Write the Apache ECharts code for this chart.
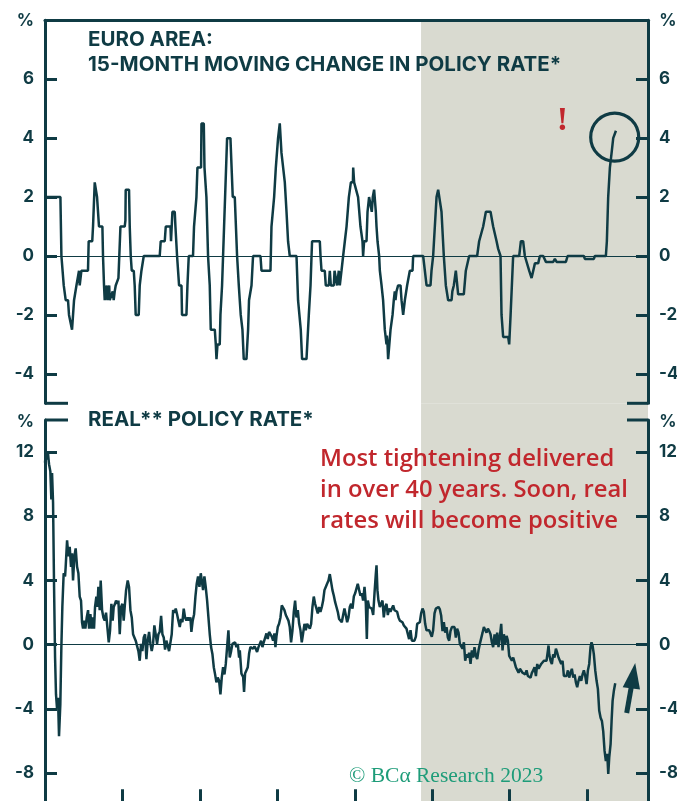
<!DOCTYPE html>
<html><head><meta charset="utf-8">
<script src="https://cdn.jsdelivr.net/npm/echarts@6/dist/echarts.min.js"></script>
<style>html,body{margin:0;padding:0;background:#fff}#main{width:677px;height:801px}</style>
</head><body><div id="main"></div>
<script>
// ---- DATA ----
const topYears = [1950.00,1951.99,1952.12,1952.42,1952.67,1952.97,1953.10,1953.28,1953.49,1953.75,1954.06,1954.31,1954.39,1954.48,1954.61,1954.70,1955.55,1955.64,1956.10,1956.20,1956.42,1956.55,1956.72,1956.97,1957.41,1957.49,1957.62,1957.71,1957.90,1957.97,1958.06,1958.23,1958.29,1958.36,1958.61,1958.74,1958.87,1959.00,1959.13,1959.30,1959.48,1959.61,1959.74,1960.29,1960.38,1960.42,1960.85,1960.94,1961.07,1961.20,1961.46,1961.58,1961.71,1962.10,1962.23,1962.45,1962.66,1962.75,1964.81,1964.94,1965.46,1965.59,1966.20,1966.27,1966.36,1966.45,1966.75,1966.84,1967.05,1967.31,1967.62,1967.69,1968.26,1968.39,1968.56,1969.11,1969.24,1969.55,1969.68,1970.15,1970.20,1970.50,1970.59,1970.84,1971.05,1971.27,1971.40,1971.92,1972.05,1972.14,1972.27,1972.56,1972.65,1972.86,1972.99,1973.12,1973.25,1973.51,1973.94,1974.24,1974.50,1974.80,1975.02,1975.27,1975.49,1975.66,1976.01,1976.22,1976.34,1976.66,1976.86,1977.82,1977.95,1979.11,1979.24,1979.58,1979.80,1980.09,1980.31,1980.44,1980.53,1980.74,1980.96,1981.18,1981.38,1981.60,1982.47,1982.67,1983.02,1983.19,1983.76,1984.06,1984.28,1984.41,1984.48,1985.48,1985.57,1985.70,1986.12,1986.25,1986.64,1986.77,1986.90,1987.29,1987.38,1987.63,1987.71,1987.87,1987.93,1988.06,1988.19,1988.28,1988.49,1988.71,1988.93,1989.23,1989.49,1989.75,1989.79,1989.91,1990.13,1990.42,1990.73,1990.99,1991.07,1991.20,1991.51,1991.64,1991.84,1992.06,1992.19,1992.32,1992.49,1992.58,1992.71,1992.80,1992.93,1993.14,1993.23,1993.45,1993.65,1993.87,1994.09,1994.13,1994.22,1994.30,1994.61,1994.87,1995.03,1995.16,1995.25,1995.38,1995.59,1995.90,1996.03,1996.24,1996.46,1996.75,1997.10,1997.45,1997.53,1998.82,1999.04,1999.26,1999.77,1999.90,2000.11,2000.33,2000.55,2000.76,2000.98,2001.19,2001.49,2001.75,2002.05,2002.49,2002.59,2002.78,2003.04,2003.13,2003.34,2004.07,2004.33,2004.76,2005.79,2006.05,2006.57,2006.92,2007.52,2007.86,2008.30,2008.50,2008.81,2008.94,2009.15,2009.80,2009.93,2010.11,2010.44,2011.22,2011.44,2011.73,2011.95,2012.51,2012.82,2013.03,2013.25,2013.67,2013.89,2014.32,2014.67,2015.61,2015.83,2016.05,2017.25,2017.47,2019.57,2019.70,2020.86,2020.99,2022.41,2022.54,2022.71,2022.93,2023.15,2023.36,2023.71];
const topValues = [2,2,0,-1,-1.5,-1.5,-2,-2,-2.5,-1.5,-1,-1,-0.5,-1,-1,-0.5,-0.5,0.5,0.5,1,2.5,2.5,2,1,1,0,-1,-1.5,-1.5,-1,-1.5,-1.5,-1,-1.5,-1.5,-1.2,-1.5,-1.2,-1,-1,-0.75,-0.75,1,1,1.2,2.25,2.25,1,0,-0.5,-0.5,-1,-2,-2,-1,-0.5,-0.5,0,0,0.5,0.5,1,1,0.5,0.5,1.5,1.5,1,0,-1,-1,-2,-2,-1,0,0,1,2,3,3,4.5,4.5,3,2,0,-1,-2.5,-2.5,-3,-3.5,-3,-3,-2,-1,0,1,2,4,4,2,2,0,-1,-2,-2.5,-3.5,-3.5,-2.5,-1.5,-1,0,0,-0.5,-0.5,1,2,3,4,4.5,4.5,3.5,3.5,2.5,1.5,0.5,0,0,-1.5,-2.5,-3.5,-3.5,-2,-1,0,0.5,0.5,0,-0.5,-0.5,-1,-1,-0.5,-1,-1,-0.5,-0.5,-1,-1,-0.5,-1,-1,-0.5,0,0.5,1,2,2.5,2.5,3,2.5,2.5,2,1,0.5,0,0.5,0.5,1.5,2,2,1.5,2,2.25,2.25,1.5,1,0.5,0,-0.5,-1,-1.5,-2.5,-3,-2.7,-3,-3.5,-2.5,-2,-1.5,-1.2,-1.5,-1.2,-1,-1,-1.5,-2,-1.5,-1,-0.5,-0.5,0,0,-0.5,-1,-1,-0.5,0,1,2,2.25,2.25,1.5,0,-1,-1.5,-1.5,-1.2,-1,-0.5,-0.5,-1.3,-1.3,-0.5,0,0,0.5,1,1.5,1.5,1,0.5,0.25,0,-2,-2.75,-2.75,-3,-2,0,0,0.5,0.5,0,-0.5,-0.75,-0.75,-0.25,-0.25,0,0,-0.2,-0.2,-0.1,-0.2,-0.2,0,0,-0.1,-0.1,0,0,0.5,2,3,3.5,4,4.25];

const realYears = [1950.00,1950.09,1950.26,1950.39,1950.52,1950.69,1950.82,1950.91,1951.04,1951.17,1951.30,1951.42,1951.55,1951.68,1951.81,1951.98,1952.11,1952.24,1952.41,1952.59,1952.67,1952.85,1953.02,1953.19,1953.36,1953.49,1953.62,1953.79,1953.96,1954.14,1954.31,1954.48,1954.65,1954.78,1954.91,1955.08,1955.21,1955.39,1955.56,1955.69,1955.86,1956.03,1956.20,1956.33,1956.46,1956.63,1956.76,1956.89,1957.06,1957.19,1957.37,1957.54,1957.71,1957.88,1958.05,1958.23,1958.40,1958.57,1958.74,1958.87,1959.04,1959.17,1959.35,1959.48,1959.65,1959.82,1959.99,1960.16,1960.29,1960.47,1960.68,1960.85,1961.03,1961.20,1961.37,1961.54,1961.71,1961.89,1962.06,1962.23,1962.40,1962.57,1962.75,1962.92,1963.09,1963.26,1963.44,1963.61,1963.78,1963.95,1964.12,1964.30,1964.47,1964.64,1964.81,1964.99,1965.16,1965.33,1965.50,1965.67,1965.85,1966.02,1966.19,1966.36,1966.54,1966.71,1966.88,1967.05,1967.22,1967.40,1967.57,1967.74,1967.91,1968.08,1968.26,1968.43,1968.60,1968.77,1968.90,1969.07,1969.25,1969.42,1969.59,1969.76,1969.94,1970.11,1970.28,1970.41,1970.58,1970.75,1970.93,1971.10,1971.27,1971.44,1971.62,1971.79,1971.96,1972.13,1972.30,1972.48,1972.65,1972.82,1972.99,1973.17,1973.34,1973.51,1973.68,1973.85,1974.03,1974.20,1974.37,1974.54,1974.71,1974.89,1975.06,
1975.15,1975.36,1975.58,1975.70,1975.83,1976.01,1976.18,1976.35,1976.52,1976.69,1976.87,1977.04,1977.21,1977.38,1977.56,1977.73,1977.90,1978.07,1978.24,1978.42,1978.59,1978.76,1978.93,1979.11,1979.28,1979.45,1979.62,1979.75,1979.88,1980.05,1980.22,1980.40,1980.57,1980.74,1980.91,1981.09,1981.26,1981.43,1981.60,1981.77,1981.95,1982.12,1982.29,1982.46,1982.64,1982.81,1982.98,1983.15,1983.32,1983.50,1983.67,1983.84,1984.01,1984.19,1984.36,1984.53,1984.70,1984.87,1985.05,1985.22,1985.39,1985.56,1985.74,1985.91,1986.08,1986.25,1986.42,1986.60,1986.77,1986.94,1987.11,1987.29,1987.46,1987.63,1987.80,1987.97,1988.15,1988.32,1988.49,1988.66,1988.83,1989.01,1989.18,1989.35,1989.52,1989.70,1989.87,1990.04,1990.21,1990.38,1990.56,1990.73,1990.90,1991.07,1991.25,1991.42,1991.55,1991.68,1991.85,1992.02,1992.19,1992.37,1992.54,1992.71,1992.80,1992.92,1993.05,1993.23,1993.40,1993.57,1993.74,1993.91,1994.09,1994.26,1994.43,1994.60,1994.78,1994.95,1995.12,1995.29,1995.46,1995.64,1995.81,1995.98,1996.15,1996.33,1996.50,1996.67,1996.84,1997.01,1997.19,1997.36,1997.53,1997.70,1997.88,1998.05,1998.22,1998.39,1998.56,1998.74,1998.91,1999.08,1999.25,1999.43,1999.60,1999.77,1999.94,2000.11,2000.29,2000.46,2000.63,2000.80,
2000.98,2001.15,2001.32,2001.49,2001.67,2001.84,2002.01,2002.18,2002.35,2002.53,2002.70,2002.87,2003.04,2003.21,2003.39,2003.56,2003.73,2003.90,2004.08,2004.25,2004.42,2004.59,2004.76,2004.94,2005.11,2005.28,2005.45,2005.63,2005.80,2005.97,2006.14,2006.31,2006.49,2006.66,2006.83,2007.00,2007.18,2007.35,2007.52,2007.69,2007.86,2008.04,2008.21,2008.38,2008.55,2008.73,2008.90,2009.07,2009.24,2009.41,2009.59,2009.76,2009.93,2010.10,2010.28,2010.45,2010.62,2010.79,2010.96,2011.14,2011.31,2011.48,2011.65,2011.83,2012.00,2012.17,2012.34,2012.51,2012.69,2012.86,2013.03,2013.20,2013.38,2013.55,2013.72,2013.89,2014.06,2014.24,2014.41,2014.58,2014.75,2014.93,2015.01,2015.10,2015.27,2015.44,2015.61,2015.78,2015.96,2016.13,2016.30,2016.47,2016.65,2016.82,2016.99,2017.16,2017.33,2017.51,2017.68,2017.85,2018.02,2018.20,2018.37,2018.54,2018.71,2018.88,2019.06,2019.23,2019.40,2019.57,2019.75,2019.92,2020.09,2020.26,2020.43,2020.56,2020.69,2020.86,2021.04,2021.21,2021.38,2021.55,2021.73,2021.90,2022.07,2022.24,2022.41,2022.59,2022.72,2022.85,2023.02,2023.15,2023.28,2023.45,2023.62];
const realValues = [11.35,11.8,11.55,11.9,11.25,10.8,9.05,10.7,8.85,3.6,-0.8,-3.1,-3.95,-3.3,-5.7,-3.7,-0.2,2.35,4.45,4.25,4.85,6.5,5.5,6.1,4.85,5.7,4.0,5.5,6.0,4.85,4.45,3.0,2.75,1.4,1.0,1.5,1.0,1.7,2.15,1.0,1.9,1.0,1.7,1.0,2.35,3.0,2.35,3.6,2.15,4.0,2.15,1.7,1.5,2.0,1.1,0.15,0.9,2.55,1.5,2.35,2.55,2.75,2.55,2.75,0.65,2.35,2.55,1.5,2.35,3.4,4.0,3.6,2.15,1.7,0.65,0.45,0.25,0.25,-0.4,-1.0,0.05,-0.4,0.45,0.65,-0.9,0.25,0.8,0.05,-0.4,0.05,1.2,1.3,0.05,0.65,0.8,1.8,0.65,0.45,-0.3,0.25,0.15,-0.4,-0.4,0.65,2.15,2.0,2.25,1.9,1.5,1.1,1.6,1.4,2.25,1.7,1.5,1.7,1.5,1.7,0.8,1.5,1.9,3.0,3.8,4.25,3.6,4.45,4.55,3.4,4.25,3.6,2.75,1.7,0.65,-0.15,-0.6,-1.4,-1.85,-2.35,-2.05,-2.25,-3.1,-2.05,-1.4,-1.85,-1.2,-0.15,0.9,-0.8,-0.4,0.05,0.05,0.15,-0.15,0.05,-0.8,
-0.35,-1.8,-2.0,-2.95,-1.8,-1.9,-1.4,-0.55,-0.15,-0.05,-0.25,-0.1,-0.25,-0.45,-0.15,-0.15,0.25,-0.15,0.15,0.25,0.7,0.35,0.8,0.9,0.5,0.25,0.7,-0.15,0.5,1.1,1.3,1.7,2.45,2.55,2.15,1.85,1.95,1.5,1.1,0.15,0.9,2.05,2.75,1.7,2.15,1.3,0.9,0.15,0.7,1.3,0.9,1.3,1.3,1.0,1.3,2.35,3.0,2.55,2.65,1.95,2.35,2.05,2.35,2.75,3.4,3.6,3.8,4.0,4.4,3.9,3.4,3.05,2.65,2.35,2.05,1.6,1.5,1.4,1.85,2.25,1.85,1.4,1.7,2.35,2.55,2.25,3.0,3.2,3.5,3.8,3.4,3.05,3.2,2.75,3.6,2.55,0.35,2.75,2.35,2.45,2.25,1.85,3.2,4.4,4.95,3.4,2.75,2.35,2.55,2.75,1.7,2.35,2.55,1.85,2.25,2.05,2.15,2.45,2.15,2.15,2.05,1.7,1.5,1.6,1.4,1.2,1.1,1.0,0.9,0.35,0.9,0.25,0.25,0.25,0.5,1.3,1.2,1.4,1.95,2.25,2.05,1.3,0.9,1.0,0.9,0.8,0.5,0.9,1.95,2.25,2.15,2.35,
2.2,1.8,0.85,1.4,0.75,1.1,0.45,0.25,0.85,1.1,1.0,1.1,0.45,1.0,0.75,0.05,-0.05,-0.25,0.15,-1.0,-0.6,-0.8,-0.5,-1.2,-0.35,-0.8,-0.15,-0.7,-0.9,-0.35,0.05,0.05,0.75,1.1,1.0,0.75,1.0,0.85,0.65,0.15,-0.15,0.65,0.05,0.75,-0.15,0.55,1.3,-0.35,0.65,0.05,0.55,0.25,-0.7,-0.6,-1.0,-0.8,-1.1,-1.4,-1.4,-1.75,-1.5,-1.6,-1.75,-1.75,-1.85,-1.6,-1.95,-1.95,-2.05,-1.75,-1.6,-1.4,-1.95,-1.2,-1.5,-1.4,-1.2,-1.1,-1.0,-0.9,-1.0,-0.35,-0.05,-0.6,-1.0,-1.2,-0.6,-0.8,-0.25,-0.5,-0.8,-0.9,-1.2,-1.0,-1.95,-1.85,-1.95,-1.6,-2.05,-1.75,-1.5,-2.05,-1.85,-2.35,-2.65,-2.25,-1.95,-2.25,-1.85,-1.6,-1.95,-2.45,-1.6,-1.2,-0.15,0.15,-0.05,-0.6,-1.6,-2.25,-2.75,-4.1,-4.55,-4.75,-5.4,-6.6,-7.25,-6.8,-8.05,-7.0,-6.2,-4.75,-3.5,-2.85,-2.4];

const topTicks = [-4, -2, 0, 2, 4, 6];
const realTicks = [-8, -4, 0, 4, 8, 12];
const xRange = [1950, 2027.85];
const shadeStart = 1998.55;
const topRange = [-5, 8];
const realRange = [-10, 14];
const topTitle = ['EURO AREA:', '15-MONTH MOVING CHANGE IN POLICY RATE*'];
const realTitle = 'REAL** POLICY RATE*';
const note = ['Most tightening delivered', 'in over 40 years. Soon, real', 'rates will become positive'];
const credit = '\u00A9 BC\u03B1 Research 2023';

// ---- STYLE ----
const INK = '#0f3b44';
const RED = '#c1272d';
const SHADE = '#d9dad0';
const GREEN = '#1e9c79';
const LABEL_FONT = 'Inter';

const chart = echarts.init(document.getElementById('main'), null, {renderer: 'canvas'});

function yAx(grid, pos, range, ticks) {
  return {
    type: 'value', gridIndex: grid, position: pos, min: range[0], max: range[1], z: 10,
    axisLine: {show: true, onZero: false, lineStyle: {color: INK, width: 3}},
    axisTick: {show: true, inside: true, length: 12, customValues: ticks, lineStyle: {color: INK, width: 3}},
    axisLabel: {show: true, customValues: ticks, margin: 11, color: INK, fontFamily: LABEL_FONT, fontWeight: 700, fontSize: 17},
    splitLine: {show: false}
  };
}

function lineSeries(xi, yi, xs, ys) {
  return {
    type: 'line', xAxisIndex: xi, yAxisIndex: yi,
    data: xs.map((x, i) => [x, ys[i]]),
    symbol: 'none', showSymbol: false,
    lineStyle: {color: INK, width: 2.5}, itemStyle: {color: INK},
    z: 3,
    markLine: {silent: true, symbol: 'none', label: {show: false}, animation: false,
      lineStyle: {color: INK, width: 1.2, type: 'solid'}, data: [{yAxis: 0}]},
    markArea: {silent: true, itemStyle: {color: SHADE}, label: {show: false},
      data: [[{xAxis: shadeStart}, {xAxis: xRange[1]}]]}
  };
}

chart.setOption({
  animation: false,
  backgroundColor: '#ffffff',
  grid: [
    {left: 45, width: 603, top: 20.3, height: 383, containLabel: false, outerBoundsMode: 'none'},
    {left: 45, width: 603, top: 420, height: 385.2, containLabel: false, outerBoundsMode: 'none'}
  ],
  xAxis: [
    {type: 'value', gridIndex: 0, min: xRange[0], max: xRange[1], position: 'top', z: 10,
     axisLine: {show: true, onZero: false, lineStyle: {color: INK, width: 3}},
     axisTick: {show: false}, axisLabel: {show: false}, splitLine: {show: false}},
    {type: 'value', gridIndex: 1, min: xRange[0], max: xRange[1], interval: 10, position: 'bottom', z: 10,
     axisLine: {show: true, onZero: false, lineStyle: {color: INK, width: 3}},
     axisTick: {show: true, inside: true, length: 16, lineStyle: {color: INK, width: 3}},
     axisLabel: {show: false}, splitLine: {show: false}}
  ],
  yAxis: [
    yAx(0, 'left', topRange, topTicks),
    yAx(0, 'right', topRange, topTicks),
    yAx(1, 'left', realRange, realTicks),
    yAx(1, 'right', realRange, realTicks)
  ],
  series: [
    lineSeries(0, 0, topYears, topValues),
    lineSeries(1, 2, realYears, realValues)
  ]
});

// decorations placed from the axes
const xs0 = chart.convertToPixel({xAxisIndex: 0}, shadeStart);
const xs1 = chart.convertToPixel({xAxisIndex: 0}, xRange[1]);
const xL = chart.convertToPixel({xAxisIndex: 0}, xRange[0]);
const yTopBottom = chart.convertToPixel({yAxisIndex: 0}, topRange[0]);
const yRealTop = chart.convertToPixel({yAxisIndex: 2}, realRange[1]);

function tick(x1, y, x2) {
  return {type: 'line', z: 20, shape: {x1: x1, y1: y, x2: x2, y2: y}, style: {stroke: INK, lineWidth: 3}};
}
function txt(t, x, y, font, fill, align) {
  return {type: 'text', z: 30, style: {text: t, x: x, y: y, font: font, fill: fill, textAlign: align || 'left', textVerticalAlign: 'middle'}};
}
const TFONT = '700 20.5px Inter';
const NFONT = '600 23.8px "Open Sans"';

chart.setOption({
  graphic: [
    {type: 'rect', z: -1, silent: true, shape: {x: xs0, y: yTopBottom, width: xs1 - xs0, height: yRealTop - yTopBottom}, style: {fill: SHADE}},
    tick(xL, yTopBottom, xL + 23), tick(xs1 - 21, yTopBottom, xs1),
    tick(xL, yRealTop, xL + 23), tick(xs1 - 21, yRealTop, xs1),
    txt('%', 25.5, 21, '700 17px Inter', INK, 'center'),
    txt('%', 668, 21, '700 17px Inter', INK, 'center'),
    txt('%', 25.5, 422, '700 17px Inter', INK, 'center'),
    txt('%', 668, 422, '700 17px Inter', INK, 'center'),
    txt(topTitle[0], 88, 40, TFONT, INK),
    txt(topTitle[1], 88, 65, TFONT, INK),
    txt(realTitle, 88, 420, TFONT, INK),
    txt(note[0], 320, 459, NFONT, RED),
    txt(note[1], 320, 490, NFONT, RED),
    txt(note[2], 320, 521, NFONT, RED),
    txt('!', 562.5, 121, '700 34px "Liberation Serif"', RED, 'center'),
    {type: 'circle', z: 30, shape: {cx: 614.7, cy: 137.2, r: 24}, style: {fill: 'none', stroke: INK, lineWidth: 3.2}},
    {type: 'line', z: 30, shape: {x1: 626.7, y1: 713, x2: 632.5, y2: 680}, style: {stroke: INK, lineWidth: 5}},
    {type: 'polygon', z: 30, shape: {points: [[622.7, 687.3], [635.2, 663], [640, 689.5]]}, style: {fill: INK}},
    txt(credit, 349, 776, '21.5px "Liberation Serif"', GREEN)
  ]
});
</script>
</body></html>
